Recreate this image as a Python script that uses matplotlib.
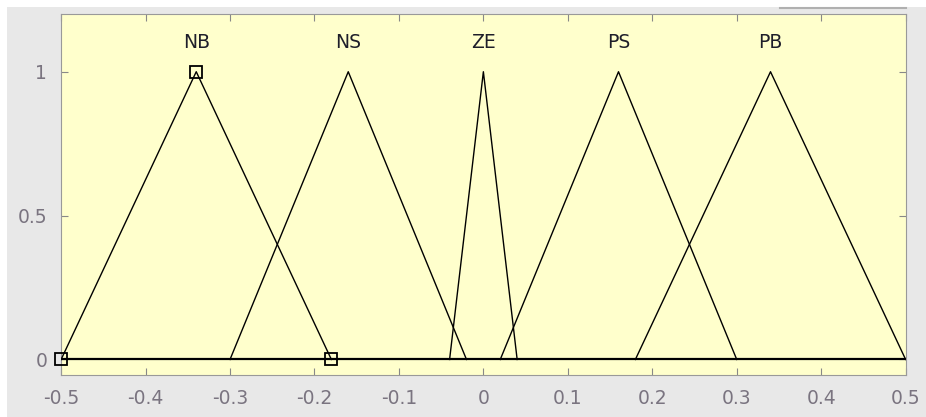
import numpy as np
import matplotlib.pyplot as plt
import matplotlib.patches as mpatches
from matplotlib.lines import Line2D

# Funciones de pertenencia triangulares (a, b, c)
nombres = ['NB', 'NS', 'ZE', 'PS', 'PB']
izq = [-0.5, -0.30, -0.04, 0.02, 0.18]
pico = [-0.34, -0.16, 0.0, 0.16, 0.34]
der = [-0.18, -0.02, 0.04, 0.30, 0.5]
seleccionada = 'NB'

x_ticks = [-0.5, -0.4, -0.3, -0.2, -0.1, 0, 0.1, 0.2, 0.3, 0.4, 0.5]
x_labels = ['-0.5', '-0.4', '-0.3', '-0.2', '-0.1', '0', '0.1', '0.2', '0.3', '0.4', '0.5']
y_ticks = [0, 0.5, 1]
y_labels = ['0', '0.5', '1']

fig = plt.figure(figsize=(9.26, 4.17), dpi=100)
fig.patch.set_facecolor('#e8e8e8')
# franjas blancas arriba e izquierda
fig.patches.append(mpatches.Rectangle((0, 0.983), 1, 0.017, transform=fig.transFigure,
                                      facecolor='white', edgecolor='none'))
fig.patches.append(mpatches.Rectangle((0, 0), 0.0076, 1, transform=fig.transFigure,
                                      facecolor='white', edgecolor='none'))
fig.lines.append(Line2D([0.842, 0.978], [0.982, 0.982], transform=fig.transFigure,
                        color='#b0b0b0', lw=1.5))

ax = fig.add_axes([0.066, 0.1, 0.912, 0.866])
ax.set_facecolor('#ffffcc')

ax.plot([-0.5, 0.5], [0, 0], color='black', lw=1.6, zorder=3)
for n, a, b, c in zip(nombres, izq, pico, der):
    ax.plot([a, b, c], [0, 1, 0], color='black', lw=1.0, zorder=3)
    ax.text(b, 1.1, n, ha='center', va='center', fontsize=13.5, color='#1e1e2a')
    if n == seleccionada:
        ax.plot([a, b, c], [0, 1, 0], ls='none', marker='s', ms=8,
                mfc='none', mec='black', mew=1.3, zorder=4, clip_on=False)

ax.set_xlim(-0.5, 0.5)
ax.set_ylim(-0.055, 1.2)
ax.set_xticks(x_ticks)
ax.set_xticklabels(x_labels)
ax.set_yticks(y_ticks)
ax.set_yticklabels(y_labels)
ax.tick_params(direction='in', length=5, top=True, right=True, colors='#888888',
               labelcolor='#7a7480', labelsize=13.5)
ax.tick_params(axis='x', pad=10)
ax.tick_params(axis='y', pad=10)
for s in ax.spines.values():
    s.set_color('#999999')

fig.savefig('out.png', dpi=100, facecolor=fig.get_facecolor())
